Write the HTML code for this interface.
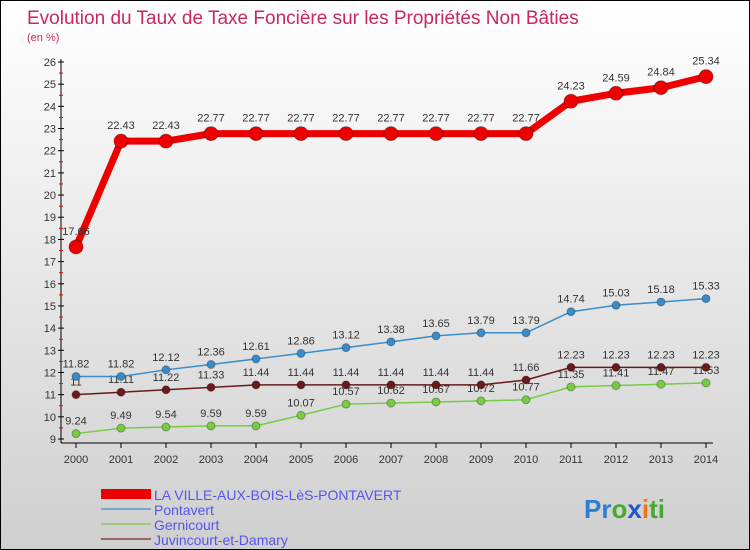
<!DOCTYPE html>
<html><head><meta charset="utf-8"><style>
body{margin:0}
#c{width:750px;height:550px;position:relative;box-sizing:border-box;border:1px solid #000;background:linear-gradient(#ffffff,#cfcfcf);font-family:"Liberation Sans",sans-serif;overflow:hidden}
</style></head><body>
<div id="c">
<svg id="s" width="748" height="548" style="position:absolute;left:0;top:0">
<text x="26" y="23" font-size="19" fill="#c8285a">Evolution du Taux de Taxe Foncière sur les Propriétés Non Bâties</text>
<text x="26" y="40" font-size="11" fill="#c8285a">(en %)</text>
<g id="axes"></g><g id="series"></g>
<g>
<rect x="100" y="488" width="50" height="10" fill="#ee0000"/>
<text x="153" y="499" font-size="14" fill="#5555ee">LA VILLE-AUX-BOIS-LèS-PONTAVERT</text>
<rect x="100" y="507" width="50" height="2" fill="#7aa6cc"/>
<text x="153" y="514" font-size="14" fill="#5555ee">Pontavert</text>
<rect x="100" y="522" width="50" height="2" fill="#99cc77"/>
<text x="153" y="529" font-size="14" fill="#5555ee">Gernicourt</text>
<rect x="100" y="537" width="50" height="2" fill="#996666"/>
<text x="153" y="544" font-size="14" fill="#5555ee">Juvincourt-et-Damary</text>
</g>
<text x="583" y="517" font-size="26" font-weight="bold"><tspan fill="#2a7fd4">Pr</tspan><tspan fill="#44aa33">o</tspan><tspan fill="#2255cc">x</tspan><tspan fill="#ee7711">i</tspan><tspan fill="#44aa33">ti</tspan></text>
</svg></div>
<script>
const years=[2000,2001,2002,2003,2004,2005,2006,2007,2008,2009,2010,2011,2012,2013,2014];
const yTicks=[9,10,11,12,13,14,15,16,17,18,19,20,21,22,23,24,25,26];
const ville=[17.66,22.43,22.43,22.77,22.77,22.77,22.77,22.77,22.77,22.77,22.77,24.23,24.59,24.84,25.34];
const pontavert=[11.82,11.82,12.12,12.36,12.61,12.86,13.12,13.38,13.65,13.79,13.79,14.74,15.03,15.18,15.33];
const gernicourt=[9.24,9.49,9.54,9.59,9.59,10.07,10.57,10.62,10.67,10.72,10.77,11.35,11.41,11.47,11.53];
const juvincourt=[11,11.11,11.22,11.33,11.44,11.44,11.44,11.44,11.44,11.44,11.66,12.23,12.23,12.23,12.23];
const NS="http://www.w3.org/2000/svg";
const X=i=>75+i*45, Y=v=>438-(v-9)*(377/17);
function mk(t,a,p){const e=document.createElementNS(NS,t);for(const k in a)e.setAttribute(k,a[k]);p.appendChild(e);return e;}
const ax=document.getElementById('axes');
let l=mk('line',{x1:60,y1:58,x2:60,y2:442,stroke:'#000','stroke-width':1},ax);

l=mk('line',{x1:60,y1:442,x2:712,y2:442,stroke:'#000','stroke-width':1},ax);

yTicks.forEach((v,i)=>{
 mk('line',{x1:57,y1:Y(v),x2:63,y2:Y(v),stroke:'#000'},ax);
 if(i<yTicks.length-1) mk('line',{x1:58,y1:Y(v+0.5),x2:62,y2:Y(v+0.5),stroke:'#e00'},ax);
 const t=mk('text',{x:55,y:Y(v)+4,'font-size':11,'text-anchor':'end',fill:'#333'},ax);t.textContent=v;
 
});
years.forEach((y,i)=>{
 mk('line',{x1:X(i),y1:442,x2:X(i),y2:447,stroke:'#000'},ax);
 const t=mk('text',{x:X(i),y:462,'font-size':11,'text-anchor':'middle',fill:'#333'},ax);t.textContent=y;
 
});
const sg=document.getElementById('series');
function series(d,name,col,w,r,lab){
 const g=mk('g',{},sg);
 mk('polyline',{points:d.map((v,i)=>X(i)+','+Y(v)).join(' '),fill:'none',stroke:col,'stroke-width':w,'stroke-linejoin':'round'},g);
 d.forEach((v,i)=>{const c=mk('circle',{cx:X(i),cy:Y(v),r:r,fill:col,stroke:'rgba(0,0,0,0.3)'},g);
  
  const t=mk('text',{x:X(i),y:Y(v)-lab,'font-size':11,'text-anchor':'middle',fill:'#333'},g);t.textContent=v;
  });
}
series(gernicourt,'gernicourt','#77cc44',1.5,4,9);
series(juvincourt,'juvincourt','#6a1a1a',1.5,4,9);
series(pontavert,'pontavert','#3a8cc8',1.5,4,9);
series(ville,'ville','#ee0000',7,7,12);
</script></body></html>
